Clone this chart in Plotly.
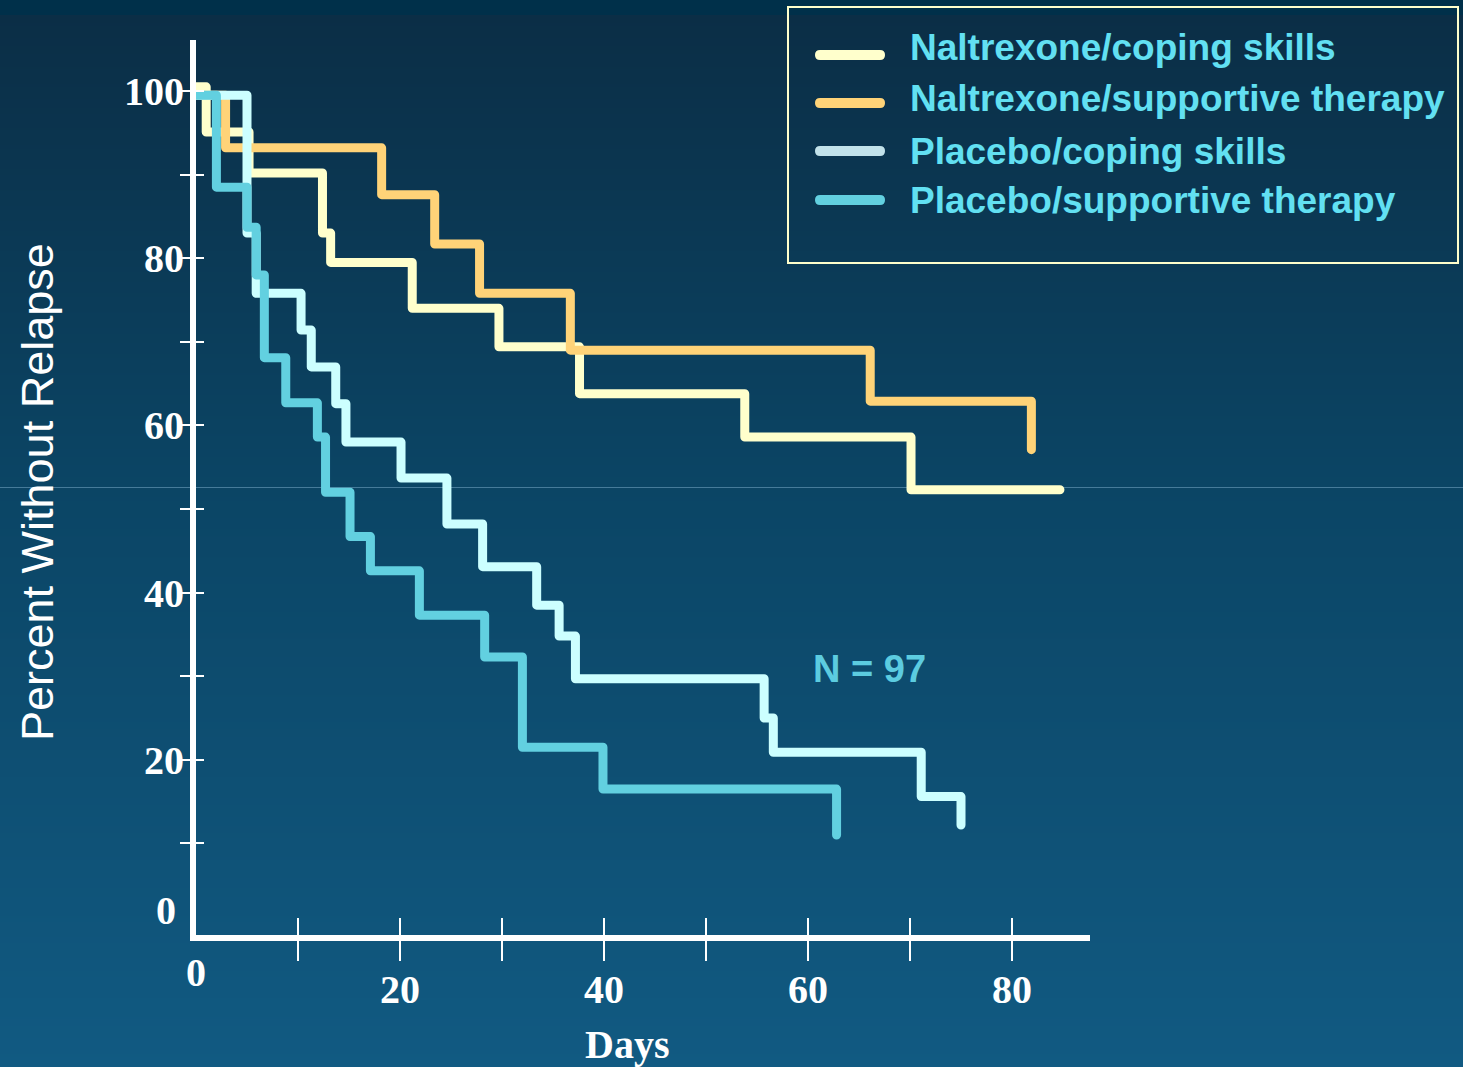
import base64, struct, zlib
import plotly.graph_objects as go

# ---------------- data ----------------
series_names = ["Naltrexone/coping skills", "Naltrexone/supportive therapy",
                "Placebo/coping skills", "Placebo/supportive therapy"]
line_colors = ["#FFFFCC", "#FFD378", "#CCFFFF", "#62D0E0"]
swatch_colors = ["#FFFFCC", "#FFD378", "#C2E2EA", "#62D0E0"]

nal_cs_days = [0, 1.0, 5.2, 12.4, 13.2, 21.2, 29.7, 37.6, 53.8, 70.1, 84.7]
nal_cs_pct = [100.5, 95.1, 90.2, 83.0, 79.5, 74.0, 69.4, 63.8, 58.6, 52.3, 52.3]

nal_st_days = [0, 2.9, 18.2, 23.4, 27.8, 36.7, 66.1, 81.9]
nal_st_pct = [99.5, 93.2, 87.6, 81.7, 75.8, 69.0, 62.9, 57.1]

pla_cs_days = [0, 5.0, 5.9, 10.3, 11.3, 13.7, 14.7, 20.1, 24.6, 28.1, 33.4, 35.6,
               37.2, 55.7, 56.6, 71.1, 75.0]
pla_cs_pct = [99.5, 83.0, 75.8, 71.4, 67.0, 62.6, 58.0, 53.7, 48.2, 43.1, 38.5, 34.8,
              29.7, 25.0, 20.9, 15.6, 12.2]

pla_st_days = [0, 2.0, 5.0, 5.9, 6.7, 8.8, 11.9, 12.7, 15.1, 17.1, 21.9, 28.3, 32.0,
               39.9, 62.8]
pla_st_pct = [99.5, 88.5, 83.7, 78.0, 68.1, 62.7, 58.6, 52.0, 46.7, 42.6, 37.3, 32.3,
              21.5, 16.5, 11.0]

x_tick_vals = [10, 20, 30, 40, 50, 60, 70, 80]
x_tick_text = ["", "20", "", "40", "", "60", "", "80"]
y_tick_vals = [10, 20, 30, 40, 50, 60, 70, 80, 90, 100]
y_tick_text = ["", "20", "", "40", "", "60", "", "80", "", "100"]

# ---------------- geometry ----------------
W, H = 1463, 1067
L, R, T, B = 196, 1090, 40, 935


def px_x(xp):
    return (xp - L) / (R - L)


def px_y(yp):
    return (B - yp) / (B - T)


# ---------------- background gradient as an inline PNG ----------------
def lerp(c1, c2, f):
    return tuple(int(round(a + (b - a) * f)) for a, b in zip(c1, c2))


def hex2rgb(h):
    h = h.lstrip("#")
    return tuple(int(h[i:i + 2], 16) for i in (0, 2, 4))


stops = [(0, "#00304A"), (14, "#00304A"), (15, "#0B2E46"), (487, "#0B4565"), (1067, "#115A82")]
rows = []
for yy in range(H):
    for (y0, c0), (y1, c1) in zip(stops[:-1], stops[1:]):
        if y0 <= yy <= y1:
            f = 0 if y1 == y0 else (yy - y0) / (y1 - y0)
            rows.append(lerp(hex2rgb(c0), hex2rgb(c1), f))
            break


def make_png(rows):
    raw = b"".join(b"\x00" + bytes(rgb) for rgb in rows)

    def chunk(tag, data):
        c = struct.pack(">I", len(data)) + tag + data
        return c + struct.pack(">I", zlib.crc32(tag + data) & 0xFFFFFFFF)

    ihdr = struct.pack(">IIBBBBB", 1, len(rows), 8, 2, 0, 0, 0)
    png = b"\x89PNG\r\n\x1a\n" + chunk(b"IHDR", ihdr) + chunk(b"IDAT", zlib.compress(raw, 9)) + chunk(b"IEND", b"")
    return "data:image/png;base64," + base64.b64encode(png).decode()


bg_uri = make_png(rows)

# ---------------- figure ----------------
fig = go.Figure()

all_days = [nal_cs_days, nal_st_days, pla_cs_days, pla_st_days]
all_pct = [nal_cs_pct, nal_st_pct, pla_cs_pct, pla_st_pct]
for name, color, d, p in zip(series_names, line_colors, all_days, all_pct):
    fig.add_trace(go.Scatter(x=d, y=p, mode="lines", name=name,
                             line=dict(color=color, width=9, shape="hv"),
                             showlegend=False, hoverinfo="skip"))

# invisible trace for the overlay axes (inner half of the tick marks)
fig.add_trace(go.Scatter(x=[None], y=[None], xaxis="x2", yaxis="y2",
                         showlegend=False, hoverinfo="skip"))

x_range = [0, (R - L) / 10.2]
y_range = [(927 - B) / 8.36, (927 - T) / 8.36]

tickfont = dict(family="Liberation Serif", size=40, color="white", weight="bold")

fig.update_layout(
    width=W, height=H,
    margin=dict(l=L, r=W - R, t=T, b=H - B),
    paper_bgcolor="#0C4565",
    plot_bgcolor="rgba(0,0,0,0)",
    xaxis=dict(range=x_range, showline=True, linecolor="white", linewidth=6,
               ticks="outside", ticklen=20, tickwidth=2, tickcolor="white",
               tickvals=x_tick_vals, ticktext=x_tick_text, tickfont=tickfont,
               ticklabelstandoff=-6,
               showgrid=False, zeroline=False, fixedrange=True),
    xaxis2=dict(range=x_range, overlaying="x", anchor="y2", side="bottom",
                showline=False, ticks="inside", ticklen=17, tickwidth=2,
                tickcolor="white", tickvals=x_tick_vals, showticklabels=False,
                showgrid=False, zeroline=False, fixedrange=True),
    yaxis=dict(range=y_range, showline=True, linecolor="white", linewidth=6,
               ticks="outside", ticklen=10, tickwidth=2, tickcolor="white",
               tickvals=y_tick_vals, ticktext=y_tick_text, tickfont=tickfont,
               ticklabelstandoff=-12,
               showgrid=False, zeroline=False, fixedrange=True),
    yaxis2=dict(range=y_range, overlaying="y", anchor="x2", side="left",
                showline=False, ticks="inside", ticklen=8, tickwidth=2,
                tickcolor="white", tickvals=y_tick_vals, showticklabels=False,
                showgrid=False, zeroline=False, fixedrange=True),
    images=[dict(source=bg_uri, xref="paper", yref="paper",
                 x=px_x(0), y=px_y(0), sizex=W / (R - L), sizey=H / (B - T),
                 xanchor="left", yanchor="top", sizing="stretch", layer="below")],
)

shapes = []
# faint horizontal seam line of the slide background
shapes.append(dict(type="line", xref="paper", yref="paper", x0=px_x(0), x1=px_x(W),
                   y0=px_y(487.5), y1=px_y(487.5),
                   line=dict(color="rgba(110,160,190,0.6)", width=1), layer="below"))
# legend box
shapes.append(dict(type="rect", xref="paper", yref="paper",
                   x0=px_x(788), x1=px_x(1458), y0=px_y(263), y1=px_y(7),
                   line=dict(color="#FFFFCC", width=2), fillcolor="rgba(0,0,0,0)"))


def rounded_bar(x0, x1, yc, h):
    r = h / 2
    y0, y1 = yc - r, yc + r
    pts = [("M", x0 + r, y0), ("L", x1 - r, y0), ("Q", x1, y0, x1, yc), ("Q", x1, y1, x1 - r, y1),
           ("L", x0 + r, y1), ("Q", x0, y1, x0, yc), ("Q", x0, y0, x0 + r, y0)]
    parts = []
    for p in pts:
        if p[0] == "Q":
            parts.append("Q%f,%f %f,%f" % (px_x(p[1]), px_y(p[2]), px_x(p[3]), px_y(p[4])))
        else:
            parts.append("%s%f,%f" % (p[0], px_x(p[1]), px_y(p[2])))
    return " ".join(parts) + " Z"


swatch_y = [55, 103, 151, 200]
text_y = [48, 99, 151, 201]
annotations = []
for name, sc, sy, ty in zip(series_names, swatch_colors, swatch_y, text_y):
    shapes.append(dict(type="path", xref="paper", yref="paper",
                       path=rounded_bar(815, 885, sy, 10),
                       fillcolor=sc, line=dict(width=0)))
    annotations.append(dict(text=name, xref="paper", yref="paper",
                            x=px_x(908), y=px_y(ty), xanchor="left", yanchor="middle",
                            showarrow=False,
                            font=dict(family="Liberation Sans", size=37, color="#62E0F2",
                                      weight="bold")))

# axis titles and lone zero labels
annotations.append(dict(text="Percent Without Relapse", xref="paper", yref="paper",
                        x=px_x(37), y=px_y(492), textangle=-90, showarrow=False,
                        xanchor="center", yanchor="middle",
                        font=dict(family="Liberation Sans", size=45, color="white")))
annotations.append(dict(text="Days", xref="paper", yref="paper",
                        x=px_x(627), y=px_y(1044), showarrow=False,
                        xanchor="center", yanchor="middle",
                        font=dict(family="Liberation Serif", size=40, color="white",
                                  weight="bold")))
annotations.append(dict(text="0", xref="paper", yref="paper",
                        x=px_x(196), y=px_y(972), showarrow=False,
                        xanchor="center", yanchor="middle", font=tickfont))
annotations.append(dict(text="0", xref="paper", yref="paper",
                        x=px_x(178), y=px_y(910), showarrow=False,
                        xanchor="right", yanchor="middle", font=tickfont))
annotations.append(dict(text="N = 97", xref="paper", yref="paper",
                        x=px_x(869), y=px_y(669), showarrow=False,
                        xanchor="center", yanchor="middle",
                        font=dict(family="Liberation Sans", size=38, color="#5CCCE0",
                                  weight="bold")))

fig.update_layout(shapes=shapes, annotations=annotations)

post_js = ("document.documentElement.style.margin='0';"
           "document.body.style.margin='0';document.body.style.padding='0';"
           "document.body.style.overflow='hidden';"
           "var gd=document.getElementById('{plot_id}');"
           "gd.querySelectorAll('path.js-line').forEach(function(p){"
           "p.style.strokeLinejoin='round';p.style.strokeLinecap='round';});")

fig.write_html("out.html", post_script=post_js,
               config={"displayModeBar": False, "staticPlot": True})
